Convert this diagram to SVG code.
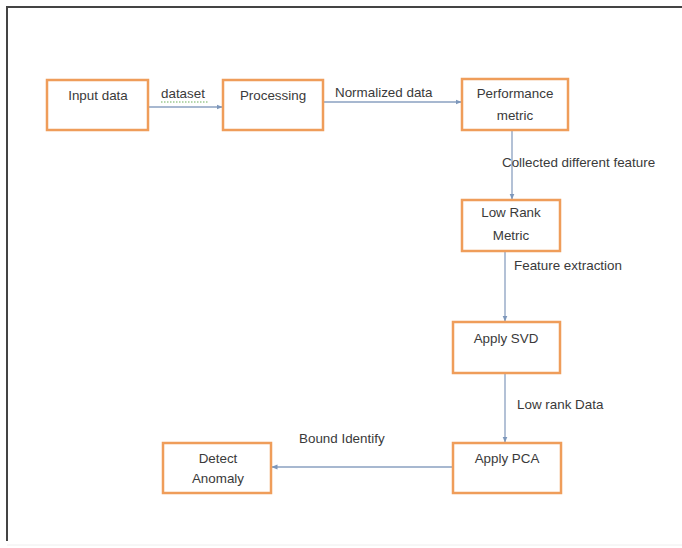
<svg xmlns="http://www.w3.org/2000/svg" width="682" height="548" viewBox="0 0 682 548">
<defs>
<marker id="ah" viewBox="0 0 6 6" refX="5.5" refY="3" markerWidth="6" markerHeight="6" markerUnits="userSpaceOnUse" orient="auto">
<path d="M0,0.5 L6,3 L0,5.5 z" fill="#7d97bb"/>
</marker>
<style>
.box{fill:#ffffff;stroke:#ef9d5a;stroke-width:2.5}
.t{font-family:"Liberation Sans",Arial,sans-serif;font-size:13.4px;fill:#3a3a3a}
.c{text-anchor:middle}
.edge{fill:none;stroke:#8aa0c0;stroke-width:1.3;marker-end:url(#ah)}
</style>
</defs>
<rect x="0" y="0" width="682" height="548" fill="#ffffff"/>
<path d="M7,541 L7,7 L682,7" fill="none" stroke="#444444" stroke-width="2"/>
<line x1="7" y1="545" x2="682" y2="545" stroke="#eeeeee" stroke-width="1"/>

<g id="connectors">
<line class="edge" x1="148" y1="107" x2="222" y2="107"/>
<line class="edge" x1="323" y1="102" x2="461" y2="102"/>
<line class="edge" x1="512" y1="130" x2="512" y2="199"/>
<line class="edge" x1="505" y1="251" x2="505" y2="321"/>
<line class="edge" x1="505" y1="373" x2="505" y2="442"/>
<line class="edge" x1="453" y1="467" x2="272" y2="467"/>
<text class="t" x="161" y="98">dataset</text>
<line x1="161" y1="102" x2="208" y2="102" stroke="#6dae5a" stroke-width="1.2" stroke-dasharray="1.5,1.5"/>
<text class="t" x="335" y="97">Normalized data</text>
<text class="t" x="502" y="167">Collected different feature</text>
<text class="t" x="514" y="270">Feature extraction</text>
<text class="t" x="517" y="409">Low rank Data</text>
<text class="t" x="299" y="443">Bound Identify</text>
</g>

<g id="input-data">
<rect class="box" x="47" y="80" width="101" height="50"/>
<text class="t c" x="98" y="100">Input data</text>
</g>
<g id="processing">
<rect class="box" x="223" y="80" width="100" height="50"/>
<text class="t c" x="273" y="100">Processing</text>
</g>
<g id="performance-metric">
<rect class="box" x="462" y="79" width="106" height="51"/>
<text class="t c" x="515" y="98">Performance</text>
<text class="t c" x="515" y="120">metric</text>
</g>
<g id="low-rank-metric">
<rect class="box" x="462" y="200" width="98" height="51"/>
<text class="t c" x="511" y="217">Low Rank</text>
<text class="t c" x="511" y="240">Metric</text>
</g>
<g id="apply-svd">
<rect class="box" x="453" y="322" width="107" height="51"/>
<text class="t c" x="506" y="343">Apply SVD</text>
</g>
<g id="apply-pca">
<rect class="box" x="453" y="443" width="108" height="50"/>
<text class="t c" x="507" y="463">Apply PCA</text>
</g>
<g id="detect-anomaly">
<rect class="box" x="163" y="443" width="108" height="50"/>
<text class="t c" x="218" y="463">Detect</text>
<text class="t c" x="218" y="483">Anomaly</text>
</g>
</svg>
